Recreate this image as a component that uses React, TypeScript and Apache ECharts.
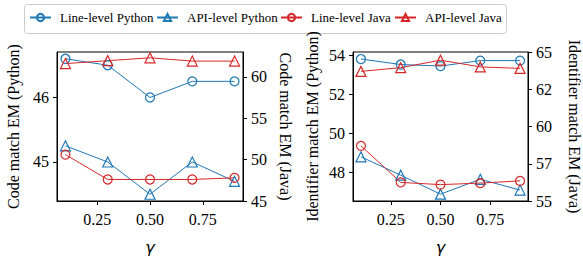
import React, { useEffect, useRef } from "react";
import * as echarts from "echarts";

const gammas = [0.1, 0.3, 0.5, 0.7, 0.9];
const xTicks = [0.25, 0.5, 0.75];

// Left panel: Code match EM
const codeLinePython = [46.6, 46.5, 46.0, 46.25, 46.25];
const codeApiPython = [45.25, 45.0, 44.5, 45.0, 44.7];
const codeLineJava = [50.6, 47.6, 47.6, 47.6, 47.8];
const codeApiJava = [61.6, 61.95, 62.3, 61.9, 61.9];
const codePyTicks = [45, 46];
const codeJavaTicks = [45, 50, 55, 60];

// Right panel: Identifier match EM
const idLinePython = [53.8, 53.52, 53.44, 53.72, 53.72];
const idApiPython = [48.8, 47.86, 46.89, 47.65, 47.1];
const idLineJava = [58.7, 56.25, 56.1, 56.2, 56.35];
const idApiJava = [63.7, 63.95, 64.45, 64.0, 63.9];
const idPyTicks = [48, 50, 52, 54];
const idJavaTicks = [55, 57.5, 60, 62.5, 65];

const legendNames = ["Line-level Python", "API-level Python", "Line-level Java", "API-level Java"];

const BLUE = "#1f77b4";
const RED = "#d62728";
const FONT = "Liberation Serif";

const pairs = (ys: number[]) => gammas.map((g, i) => [g, ys[i]]);

function yAxis(
  gridIndex: number,
  position: "left" | "right",
  name: string,
  min: number,
  max: number,
  ticks: number[],
  nameGap: number,
  fmt: (v: number) => string
) {
  return {
    type: "value",
    gridIndex,
    position,
    min,
    max,
    name,
    nameLocation: "middle",
    nameRotate: position === "left" ? 90 : -90,
    nameGap,
    nameTextStyle: { fontFamily: FONT, fontSize: 16, color: "#000" },
    splitLine: { show: false },
    axisLine: { show: true, lineStyle: { color: "#000", width: 1 } },
    axisTick: { show: true, inside: false, length: 4, customValues: ticks, lineStyle: { color: "#000", width: 1 } },
    axisLabel: {
      customValues: ticks,
      margin: 8,
      fontFamily: FONT,
      fontSize: 16,
      color: "#000",
      formatter: (v: number) => fmt(v),
    },
  };
}

function xAxis(gridIndex: number) {
  return {
    type: "value",
    gridIndex,
    min: 0.06,
    max: 0.94,
    name: "γ",
    nameLocation: "middle",
    nameGap: 38,
    nameTextStyle: { fontFamily: "DejaVu Sans", fontStyle: "italic", fontSize: 16, color: "#000" },
    splitLine: { show: false },
    axisLine: { show: true, onZero: false, lineStyle: { color: "#000", width: 1 } },
    axisTick: { show: true, inside: false, length: 4, customValues: xTicks, lineStyle: { color: "#000", width: 1 } },
    axisLabel: {
      customValues: xTicks,
      margin: 10,
      fontFamily: FONT,
      fontSize: 16,
      color: "#000",
      formatter: (v: number) => v.toFixed(2),
    },
  };
}

function series(name: string, color: string, symbol: string, xi: number, yi: number, ys: number[]) {
  return {
    type: "line",
    name,
    xAxisIndex: xi,
    yAxisIndex: yi,
    data: pairs(ys),
    symbol,
    symbolSize: symbol === "circle" ? 9 : 10,
    showSymbol: true,
    lineStyle: { color, width: 1 },
    itemStyle: { color: "rgba(255,255,255,0)", borderColor: color, borderWidth: 1.2 },
    emphasis: { disabled: true },
  };
}

const legendLefts = [29, 156, 280, 394];

export default function App() {
  const ref = useRef<HTMLDivElement>(null);
  useEffect(() => {
    if (!ref.current) return;
    const chart = echarts.init(ref.current, undefined, { renderer: "svg" });
    chart.setOption({
      animation: false,
      backgroundColor: "#fff",
      graphic: [
        {
          type: "rect",
          z: 0,
          shape: { x: 24.5, y: 4.5, width: 482, height: 29, r: 3 },
          style: { fill: "#fff", stroke: "#cccccc", lineWidth: 1 },
          silent: true,
        },
      ],
      legend: legendNames.map((n, i) => ({
        left: legendLefts[i],
        top: 11,
        padding: 0,
        itemWidth: 21,
        itemHeight: 9,
        z: 10,
        textStyle: { fontFamily: FONT, fontSize: 13, color: "#000", padding: [0, 0, 0, 4] },
        data: [n],
      })),
      grid: [
        { left: 57, top: 52, width: 186, height: 159, show: true, borderColor: "#000", borderWidth: 1, backgroundColor: "transparent" },
        { left: 353, top: 52, width: 184, height: 159, show: true, borderColor: "#000", borderWidth: 1, backgroundColor: "transparent" },
      ],
      xAxis: [xAxis(0), xAxis(1)],
      yAxis: [
        yAxis(0, "left", "Code match EM (Python)", 44.395, 46.705, codePyTicks, 36, (v) => String(v)),
        yAxis(0, "right", "Code match EM (Java)", 45, 63, codeJavaTicks, 34, (v) => String(v)),
        yAxis(1, "left", "Identifier match EM (Python)", 46.54, 54.16, idPyTicks, 33, (v) => String(v)),
        yAxis(1, "right", "Identifier match EM (Java)", 55, 65, idJavaTicks, 38, (v) => String(Math.floor(v))),
      ],
      series: [
        series("Line-level Python", BLUE, "circle", 0, 0, codeLinePython),
        series("API-level Python", BLUE, "triangle", 0, 0, codeApiPython),
        series("Line-level Java", RED, "circle", 0, 1, codeLineJava),
        series("API-level Java", RED, "triangle", 0, 1, codeApiJava),
        series("Line-level Python", BLUE, "circle", 1, 2, idLinePython),
        series("API-level Python", BLUE, "triangle", 1, 2, idApiPython),
        series("Line-level Java", RED, "circle", 1, 3, idLineJava),
        series("API-level Java", RED, "triangle", 1, 3, idApiJava),
      ],
    });
    return () => chart.dispose();
  }, []);
  return <div ref={ref} style={{ position: "absolute", left: 0, top: 0, width: 583, height: 260 }} />;
}
